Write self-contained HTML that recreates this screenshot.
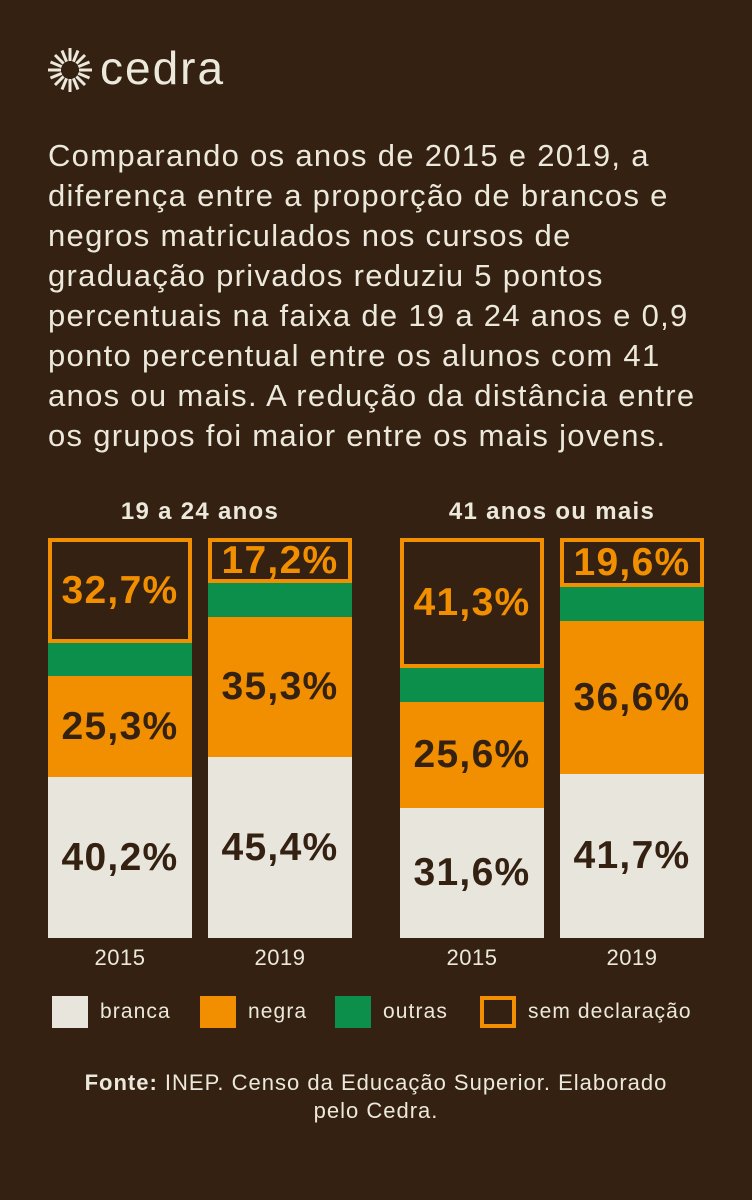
<!DOCTYPE html>
<html><head><meta charset="utf-8"><style>
body{margin:0;width:752px;height:1200px;background:#342111;font-family:"Liberation Sans","DejaVu Sans",sans-serif;color:#ebe8dc;position:relative;overflow:hidden}
.a{position:absolute}
.p{position:absolute;left:48px;top:136px;font-size:31px;line-height:40px;width:720px;letter-spacing:1.3px;white-space:nowrap}
.bar{position:absolute;width:144px}
.seg{position:absolute;left:0;width:144px;display:flex;align-items:center;justify-content:center;font-weight:bold;font-size:39px;color:#342111;box-sizing:border-box;letter-spacing:1.3px}
.box{border:4px solid #f18f01;color:#f18f01;background:#342111}
.g{background:#0b8f4a}.o{background:#f18f01}.w{background:#e8e6dc}
.yr{position:absolute;width:144px;text-align:center;font-size:22px;top:945px;letter-spacing:0.5px}
.h{position:absolute;font-size:24px;font-weight:bold;text-align:center;top:498px;letter-spacing:1.3px}
.lg{position:absolute;top:996px;width:36px;height:32px;box-sizing:border-box}
.lt{position:absolute;top:1000px;font-size:21px;letter-spacing:1.1px}
</style></head><body>
<svg class="a" style="left:47px;top:47px" width="46" height="46" viewBox="-23 -23 46 46">
<g stroke="#ebe8dc" stroke-width="3" stroke-linecap="butt">
<line x1="0" y1="-9" x2="0" y2="-22"/><line x1="0" y1="9" x2="0" y2="22"/><line x1="-9" y1="0" x2="-22" y2="0"/><line x1="9" y1="0" x2="22" y2="0"/>
<line x1="6.4" y1="6.4" x2="15" y2="15"/><line x1="-6.4" y1="6.4" x2="-15" y2="15"/><line x1="6.4" y1="-6.4" x2="15" y2="-15"/><line x1="-6.4" y1="-6.4" x2="-15" y2="-15"/>
<line x1="3.4" y1="8.3" x2="8" y2="19.5"/><line x1="-3.4" y1="8.3" x2="-8" y2="19.5"/><line x1="3.4" y1="-8.3" x2="8" y2="-19.5"/><line x1="-3.4" y1="-8.3" x2="-8" y2="-19.5"/>
<line x1="8.3" y1="3.4" x2="19.5" y2="8"/><line x1="-8.3" y1="3.4" x2="-19.5" y2="8"/><line x1="8.3" y1="-3.4" x2="19.5" y2="-8"/><line x1="-8.3" y1="-3.4" x2="-19.5" y2="-8"/>
</g></svg>
<div class="a" style="left:100px;top:40px;font-size:46px;line-height:56px;letter-spacing:2px">cedra</div>
<div class="p">Comparando os anos de 2015 e 2019, a<br>diferença entre a proporção de brancos e<br>negros matriculados nos cursos de<br>graduação privados reduziu 5 pontos<br>percentuais na faixa de 19 a 24 anos e 0,9<br>ponto percentual entre os alunos com 41<br>anos ou mais. A redução da distância entre<br>os grupos foi maior entre os mais jovens.</div>
<div class="h" style="left:48px;width:304px">19 a 24 anos</div>
<div class="h" style="left:400px;width:304px">41 anos ou mais</div>

<div class="bar" style="left:48px;top:0">
<div class="seg box" style="top:538px;height:105px">32,7%</div>
<div class="seg g" style="top:643px;height:33px"></div>
<div class="seg o" style="top:676px;height:101px">25,3%</div>
<div class="seg w" style="top:777px;height:161px">40,2%</div></div>
<div class="bar" style="left:208px;top:0">
<div class="seg box" style="top:538px;height:45px">17,2%</div>
<div class="seg g" style="top:583px;height:34px"></div>
<div class="seg o" style="top:617px;height:140px">35,3%</div>
<div class="seg w" style="top:757px;height:181px">45,4%</div></div>
<div class="bar" style="left:400px;top:0">
<div class="seg box" style="top:538px;height:130px">41,3%</div>
<div class="seg g" style="top:668px;height:34px"></div>
<div class="seg o" style="top:702px;height:106px">25,6%</div>
<div class="seg w" style="top:808px;height:130px">31,6%</div></div>
<div class="bar" style="left:560px;top:0">
<div class="seg box" style="top:538px;height:49px">19,6%</div>
<div class="seg g" style="top:587px;height:34px"></div>
<div class="seg o" style="top:621px;height:153px">36,6%</div>
<div class="seg w" style="top:774px;height:164px">41,7%</div></div>

<div class="yr" style="left:48px">2015</div>
<div class="yr" style="left:208px">2019</div>
<div class="yr" style="left:400px">2015</div>
<div class="yr" style="left:560px">2019</div>

<div class="lg w" style="left:52px"></div><div class="lt" style="left:100px">branca</div>
<div class="lg o" style="left:200px"></div><div class="lt" style="left:248px">negra</div>
<div class="lg g" style="left:335px"></div><div class="lt" style="left:383px">outras</div>
<div class="lg" style="left:480px;border:4px solid #f18f01"></div><div class="lt" style="left:528px">sem declaração</div>

<div class="a" style="left:10px;top:1069px;width:732px;text-align:center;font-size:22px;line-height:28px;letter-spacing:1px"><b>Fonte:</b> INEP. Censo da Educação Superior. Elaborado<br>pelo Cedra.</div>
</body></html>
